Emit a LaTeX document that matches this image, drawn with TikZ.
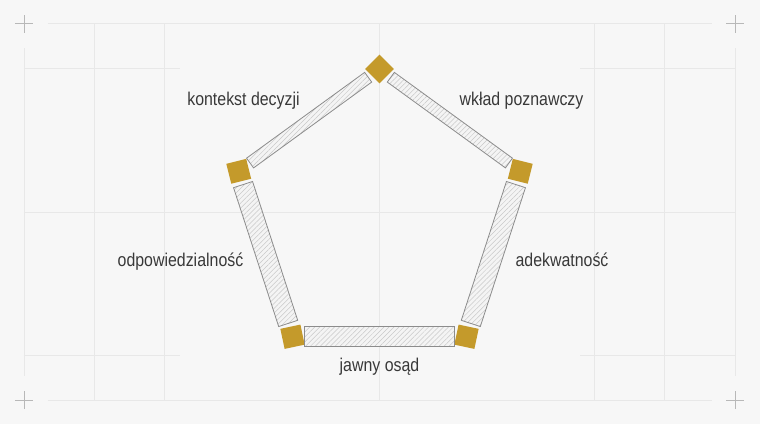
\documentclass[tikz,border=0pt]{standalone}
\usepackage{fontspec}
\setmainfont[FakeStretch=0.86]{Liberation Sans}
\usetikzlibrary{calc,patterns.meta}

\definecolor{paper}{HTML}{F7F7F7}
\definecolor{gridgray}{HTML}{E8E8E8}
\definecolor{crossgray}{HTML}{B8B8B8}
\definecolor{gold}{HTML}{C49A2B}
\definecolor{bargray}{HTML}{8C8C8C}
\definecolor{barfill}{HTML}{F4F4F4}
\definecolor{hatch}{HTML}{C9C9C9}
\definecolor{ink}{HTML}{383838}

\tikzset{
  guide/.style={draw=gridgray, line width=0.8pt},
  crossmark/.style={draw=crossgray, line width=0.8pt},
  joint/.style={rectangle, fill=gold, minimum size=20.5pt, inner sep=0pt, outer sep=0pt},
  bar/.style={rectangle, draw=bargray, line width=0.8pt, preaction={fill=barfill},
    pattern={Lines[angle=45,distance=3.5pt,line width=0.5pt]}, pattern color=hatch,
    inner sep=0pt, outer sep=0pt, minimum width=146pt},
  sidelabel/.style={text=ink, font=\fontsize{18.5}{22}\selectfont, anchor=base, inner sep=0pt},
}

\begin{document}
\begin{tikzpicture}[x=1pt,y=1pt]
  \fill[paper] (-379.5,-207) rectangle (380.5,217);
  \useasboundingbox (-379.5,-207) rectangle (380.5,217);

  % guide lines
  \draw[guide] (-331.5,193.5) -- (332.5,193.5);
  \draw[guide] (-331.5,-183) -- (332.5,-183);
  \draw[guide] (-355.5,169) -- (-355.5,-159);
  \draw[guide] (355.5,169) -- (355.5,-159);
  \foreach \gx in {-285,-215,0,215,285}
    \draw[guide] (\gx,193.5) -- (\gx,-183);
  \foreach \gy in {149,-138} {
    \draw[guide] (-355.5,\gy) -- (-199.5,\gy);
    \draw[guide] (200.5,\gy) -- (355.5,\gy);
  }
  \draw[guide] (-355.5,5) -- (355.5,5);
  \foreach \cx/\cy in {-355.5/193.5,355.5/193.5,-355.5/-183,355.5/-183}
    \draw[crossmark] (\cx-9,\cy) -- (\cx+9,\cy) (\cx,\cy-9) -- (\cx,\cy+9);

  % joints
  \node[joint, rotate=45] (top) at (90:148) {};
  \node[joint, rotate=-14] (upright) at (18:148) {};
  \node[joint, rotate=-12] (lowright) at (-54:148) {};
  \node[joint, rotate=12] (lowleft) at (-126:148) {};
  \node[joint, rotate=14] (upleft) at (162:148) {};

  % bars
  \node[bar, minimum height=12pt, rotate=-36] (b1) at ($(top)!0.5!(upright)$) {};
  \node[bar, minimum height=20pt, rotate=72] (b2) at ($(upright)!0.5!(lowright)$) {};
  \node[bar, minimum height=20pt, minimum width=150pt] (b3) at ($(lowright)!0.5!(lowleft)$) {};
  \node[bar, minimum height=20pt, rotate=-72] (b4) at ($(lowleft)!0.5!(upleft)$) {};
  \node[bar, minimum height=12pt, rotate=36] (b5) at ($(upleft)!0.5!(top)$) {};

  % labels
  \node[sidelabel] (kontekst) at (-136,112) {kontekst decyzji};
  \node[sidelabel] (wklad) at (142,112) {wkład poznawczy};
  \node[sidelabel] (odpow) at (-199,-49) {odpowiedzialność};
  \node[sidelabel] (adekw) at (182.5,-49) {adekwatność};
  \node[sidelabel] (osad) at (0,-154.7) {jawny osąd};
\end{tikzpicture}
\end{document}
